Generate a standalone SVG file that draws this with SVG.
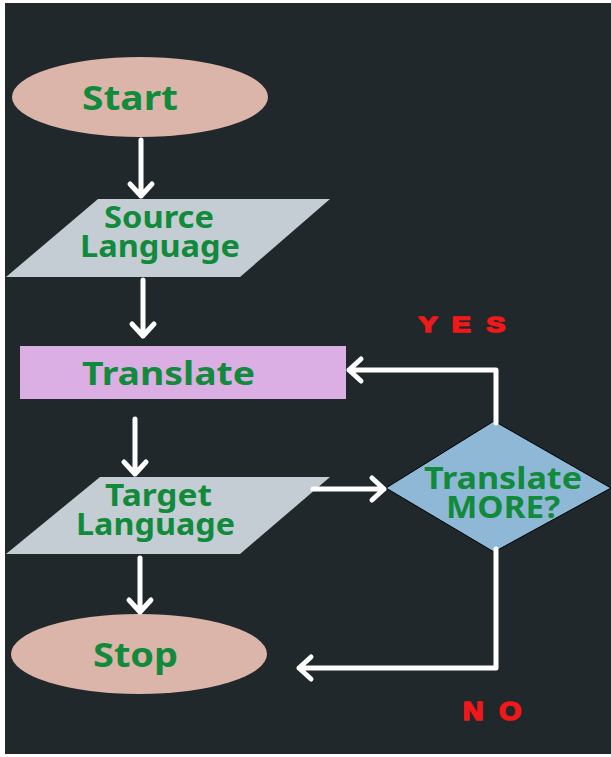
<svg xmlns="http://www.w3.org/2000/svg" width="611" height="757" viewBox="0 0 611 757">
<style>
.lbl{font-family:"Noto Sans","Open Sans","DejaVu Sans",sans-serif;font-weight:bold;fill:#128a3c}
.red{font-family:"Liberation Sans",Arial,sans-serif;font-weight:bold;fill:#f01818;stroke:#f01818;stroke-width:1.6;stroke-linejoin:round}
.conn{fill:none;stroke:#ffffff;stroke-width:5;stroke-linecap:round;stroke-linejoin:round}
</style>
<rect x="0" y="0" width="611" height="757" fill="#ffffff"/>
<rect x="5" y="3" width="606" height="751" fill="#20282b"/>
<g id="start">
<ellipse cx="140" cy="97" rx="128" ry="40" fill="#dbb5aa"/>
<text class="lbl" x="82" y="110" font-size="34" textLength="96" lengthAdjust="spacingAndGlyphs">Start</text>
</g>
<g id="source">
<polygon points="98,199 330,199 240,277 6,277" fill="#c5cdd4"/>
<text class="lbl" font-size="30"><tspan x="104" y="228" textLength="110" lengthAdjust="spacingAndGlyphs">Source</tspan><tspan x="80" y="257" textLength="160" lengthAdjust="spacingAndGlyphs">Language</tspan></text>
</g>
<g id="translate">
<rect x="20" y="346" width="326" height="53" fill="#dbafe3"/>
<text class="lbl" x="82" y="385" font-size="32" textLength="173" lengthAdjust="spacingAndGlyphs">Translate</text>
</g>
<g id="target">
<polygon points="100,477 330,477 240,554 6,554" fill="#c5cdd4"/>
<text class="lbl" font-size="30"><tspan x="105" y="506" textLength="107" lengthAdjust="spacingAndGlyphs">Target</tspan><tspan x="76" y="535" textLength="159" lengthAdjust="spacingAndGlyphs">Language</tspan></text>
</g>
<g id="decision">
<polygon points="386,488 494,421 611,488 494,552" fill="#8fb8d6" stroke="#000000" stroke-width="1"/>
<text class="lbl" font-size="30"><tspan x="424" y="489" textLength="158" lengthAdjust="spacingAndGlyphs">Translate</tspan><tspan x="446" y="518" textLength="114" lengthAdjust="spacingAndGlyphs">MORE?</tspan></text>
</g>
<g id="stop">
<ellipse cx="139" cy="654" rx="128" ry="40" fill="#dbb5aa"/>
<text class="lbl" x="93" y="667" font-size="34" textLength="85" lengthAdjust="spacingAndGlyphs">Stop</text>
</g>
<g id="labels">
<text class="red" transform="scale(1.3,1)" x="322 347.5 374" y="332" font-size="22">YES</text>
<text class="red" transform="scale(1.15,1)" x="402.5 434" y="720" font-size="25">NO</text>
</g>
<g id="connectors">
<path class="conn" d="M141,140 V196 M130,184 L141,196 L152,184"/>
<path class="conn" d="M143,280 V336 M132,324 L143,336 L154,324"/>
<path class="conn" d="M135,419 V474 M124,462 L135,474 L146,462"/>
<path class="conn" d="M140,558 V612 M129,600 L140,612 L151,600"/>
<path class="conn" d="M313,489 H384 M372,478 L384,489 L372,500"/>
<path class="conn" d="M496,423 V370 H349 M361,359 L349,370 L361,381"/>
<path class="conn" d="M496,549 V668 H299 M311,657 L299,668 L311,679"/>
</g>
</svg>
